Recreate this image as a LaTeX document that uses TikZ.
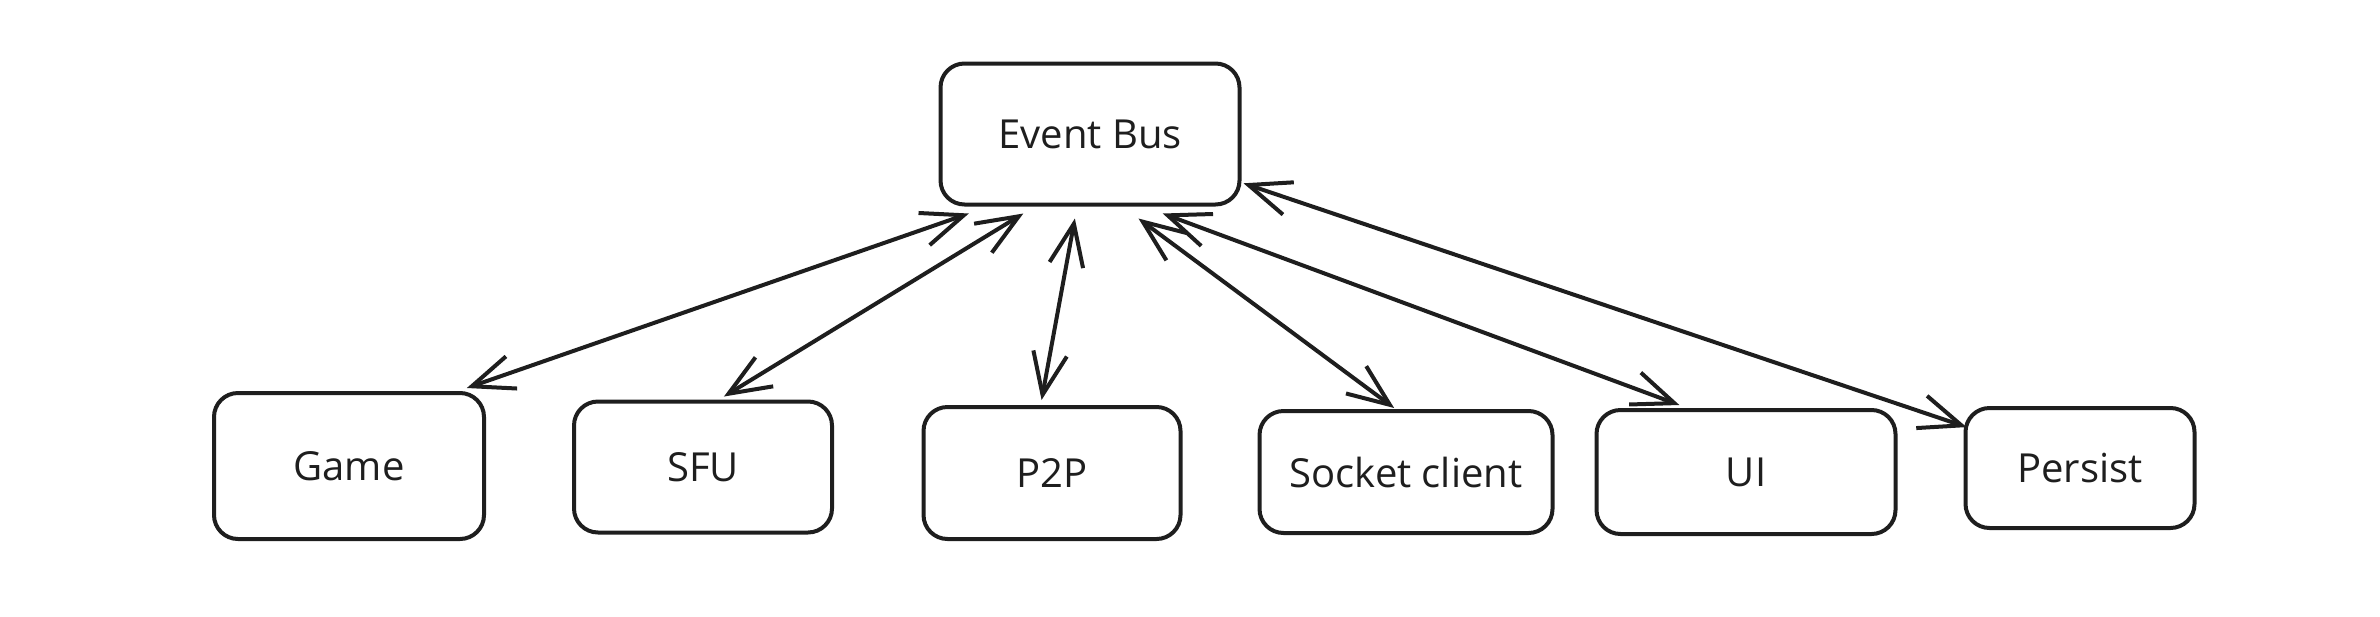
\documentclass[tikz,border=0pt]{standalone}
\usepackage{fontspec}
\setmainfont{Open Sans}
\usetikzlibrary{arrows.meta,calc}
\definecolor{ink}{HTML}{1E1E1E}
\tikzset{
  box/.style={draw=ink, line width=2pt, rounded corners=12pt, fill=white,
    inner sep=0pt, font=\fontsize{20}{24}\selectfont, text=ink},
  link/.style={draw=ink, line width=2pt, line cap=round,
    >={Straight Barb[length=21pt,width=17pt,line width=2pt]}, <->}
}
\begin{document}
\begin{tikzpicture}[x=0.5pt,y=-0.5pt]
\useasboundingbox (0,0) rectangle (2380,616);
\node[box, minimum width=149.5pt, minimum height=70.5pt] (eb) at (1090,134) {Event Bus};
\node[box, minimum width=135pt, minimum height=73pt] (game) at (349,466) {Game};
\node[box, minimum width=129pt, minimum height=65.5pt] (sfu) at (703,467) {SFU};
\node[box, minimum width=128.5pt, minimum height=66pt] (p2p) at (1052,473) {P2P};
\node[box, minimum width=146.5pt, minimum height=61pt] (sock) at (1406,472) {Socket client};
\node[box, minimum width=149.5pt, minimum height=62pt] (ui) at (1746,472) {UI};
\node[box, minimum width=114.5pt, minimum height=60pt] (per) at (2080,468) {Persist};

\draw[link] ($(game.north west)!0.93!(game.north east)+(0,-3)$) -- ($(eb.south west)!0.10!(eb.south east)+(0,7)$);
\draw[link] ($(sfu.north west)!0.58!(sfu.north east)+(0,-3)$) -- ($(eb.south west)!0.28!(eb.south east)+(0,7)$);
\draw[link] ($(p2p.north west)!0.46!(p2p.north east)+(0,-5)$) -- ($(eb.south west)!0.45!(eb.south east)+(0,12)$);
\draw[link] ($(sock.north west)!0.46!(sock.north east)+(0,-1)$) -- ($(eb.south west)!0.66!(eb.south east)+(0,12)$);
\draw[link] ($(ui.north west)!0.28!(ui.north east)+(0,-3)$) -- ($(eb.south west)!0.74!(eb.south east)+(0,7)$);
\draw[link] ($(per.north west)!0.17!(per.south west)+(3,0)$) -- ($(eb.north east)!0.84!(eb.south east)+(2,0)$);
\end{tikzpicture}
\end{document}
